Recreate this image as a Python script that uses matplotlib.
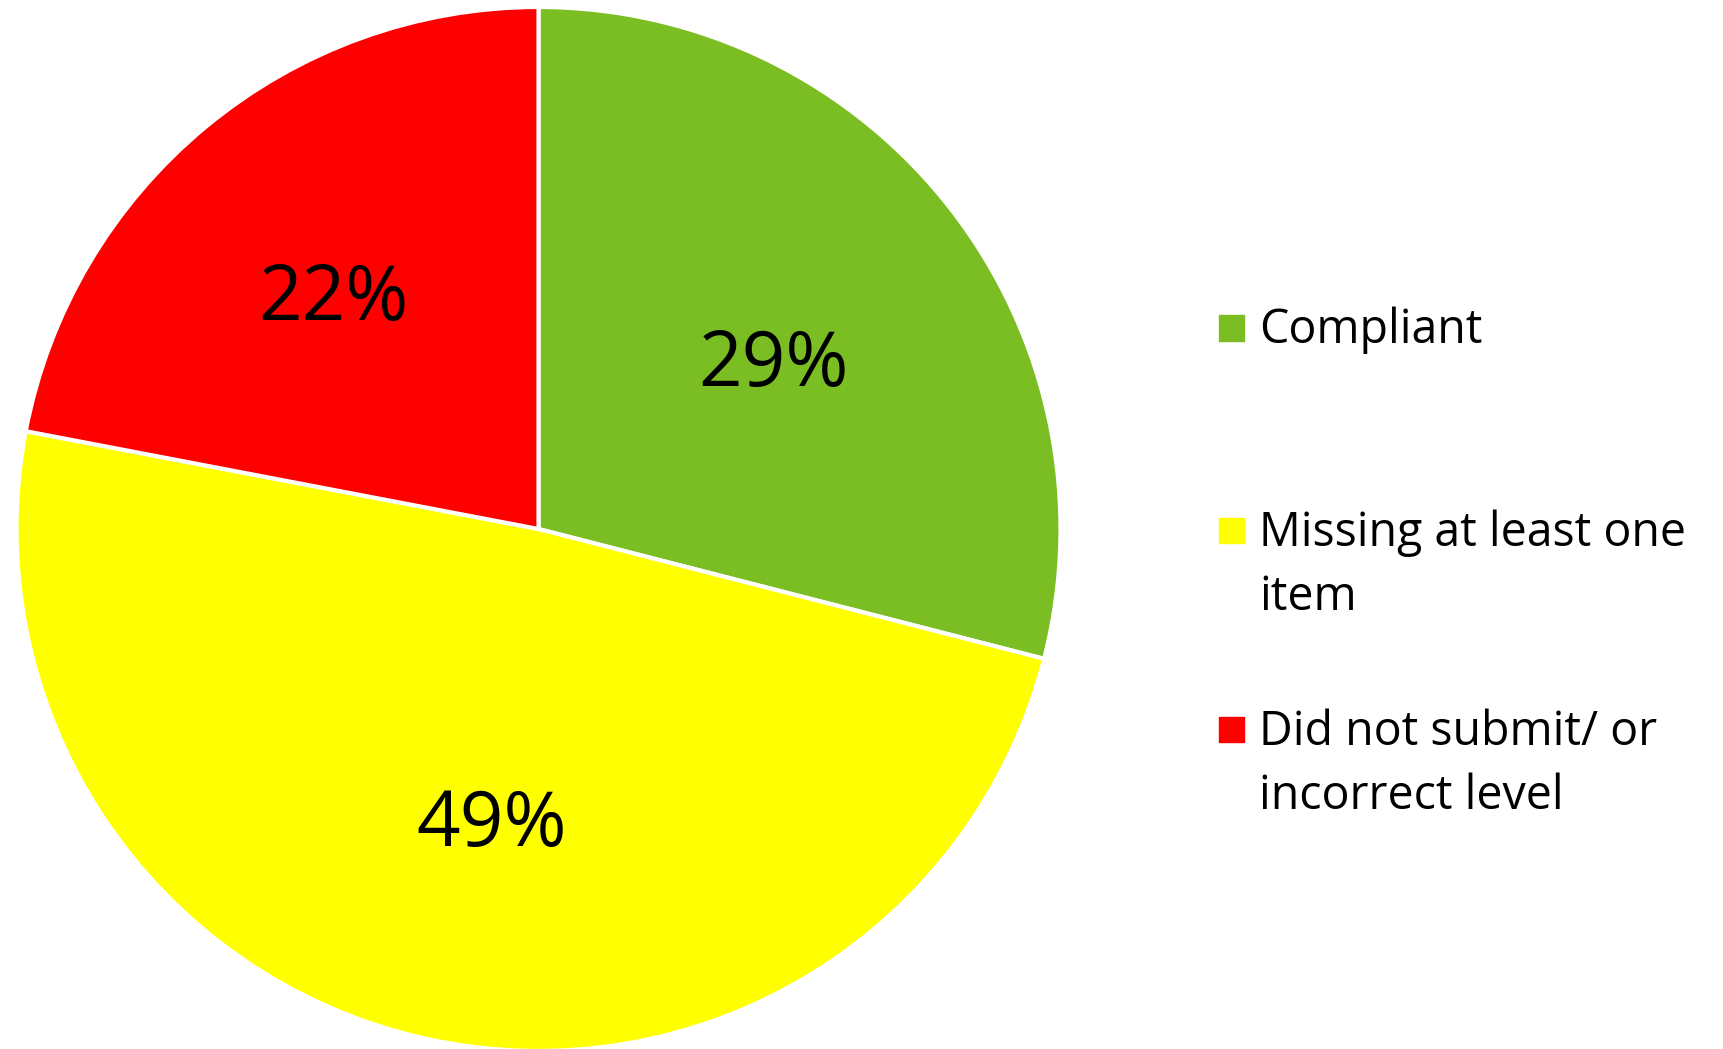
import matplotlib
matplotlib.use("Agg")
import matplotlib.pyplot as plt
from matplotlib.patches import Rectangle

plt.rcParams["font.family"] = ["Open Sans", "DejaVu Sans"]

# Submission status breakdown (percent of all entries)
categories = ["Compliant", "Missing at least one\nitem", "Did not submit/ or\nincorrect level"]
shares = [29, 49, 22]
colors = ["#7BBE23", "#FFFF00", "#FF0000"]

W, H, DPI = 1724, 1049, 100
fig = plt.figure(figsize=(W / DPI, H / DPI), dpi=DPI)

# pie geometry in pixels
cx, cy, r = 538.5, 529, 522
ax = fig.add_axes([(cx - r) / W, (H - cy - r) / H, 2 * r / W, 2 * r / H])
wedges, _, pct = ax.pie(
    shares, colors=colors, startangle=90, counterclock=False, radius=1.0,
    autopct="%d%%", pctdistance=0.575,
    wedgeprops=dict(edgecolor="white", linewidth=3),
    textprops=dict(fontsize=55, color="black"),
)
ax.set_xlim(-1, 1)
ax.set_ylim(-1, 1)
ax.set_aspect("equal")
ax.axis("off")

# nudge the percentage labels to where the data labels sit (pixel x, baseline y)
label_px = [(773, 386), (492, 846), (333, 320)]
for t, (px, py) in zip(pct, label_px):
    t.set_va("baseline")
    t.set_position(((px - cx) / r, (cy - py) / r))

# legend on the right, square lined up with the first line of each label
box = 25
lx, tx = 1219, 1259
first_base = [343.5, 546, 745]
line_h = 64
for name, col, base in zip(categories, colors, first_base):
    sq_c = base - 15.5
    fig.patches.append(Rectangle((lx / W, (H - sq_c - box / 2) / H), box / W, box / H,
                                 transform=fig.transFigure, color=col))
    n = name.count("\n")
    # multi-line text anchors its baseline on the last line
    fig.text(tx / W, (H - base - n * line_h) / H, name, fontsize=33.5,
             va="baseline", ha="left", linespacing=1.46)

fig.savefig("out.png", dpi=DPI)
